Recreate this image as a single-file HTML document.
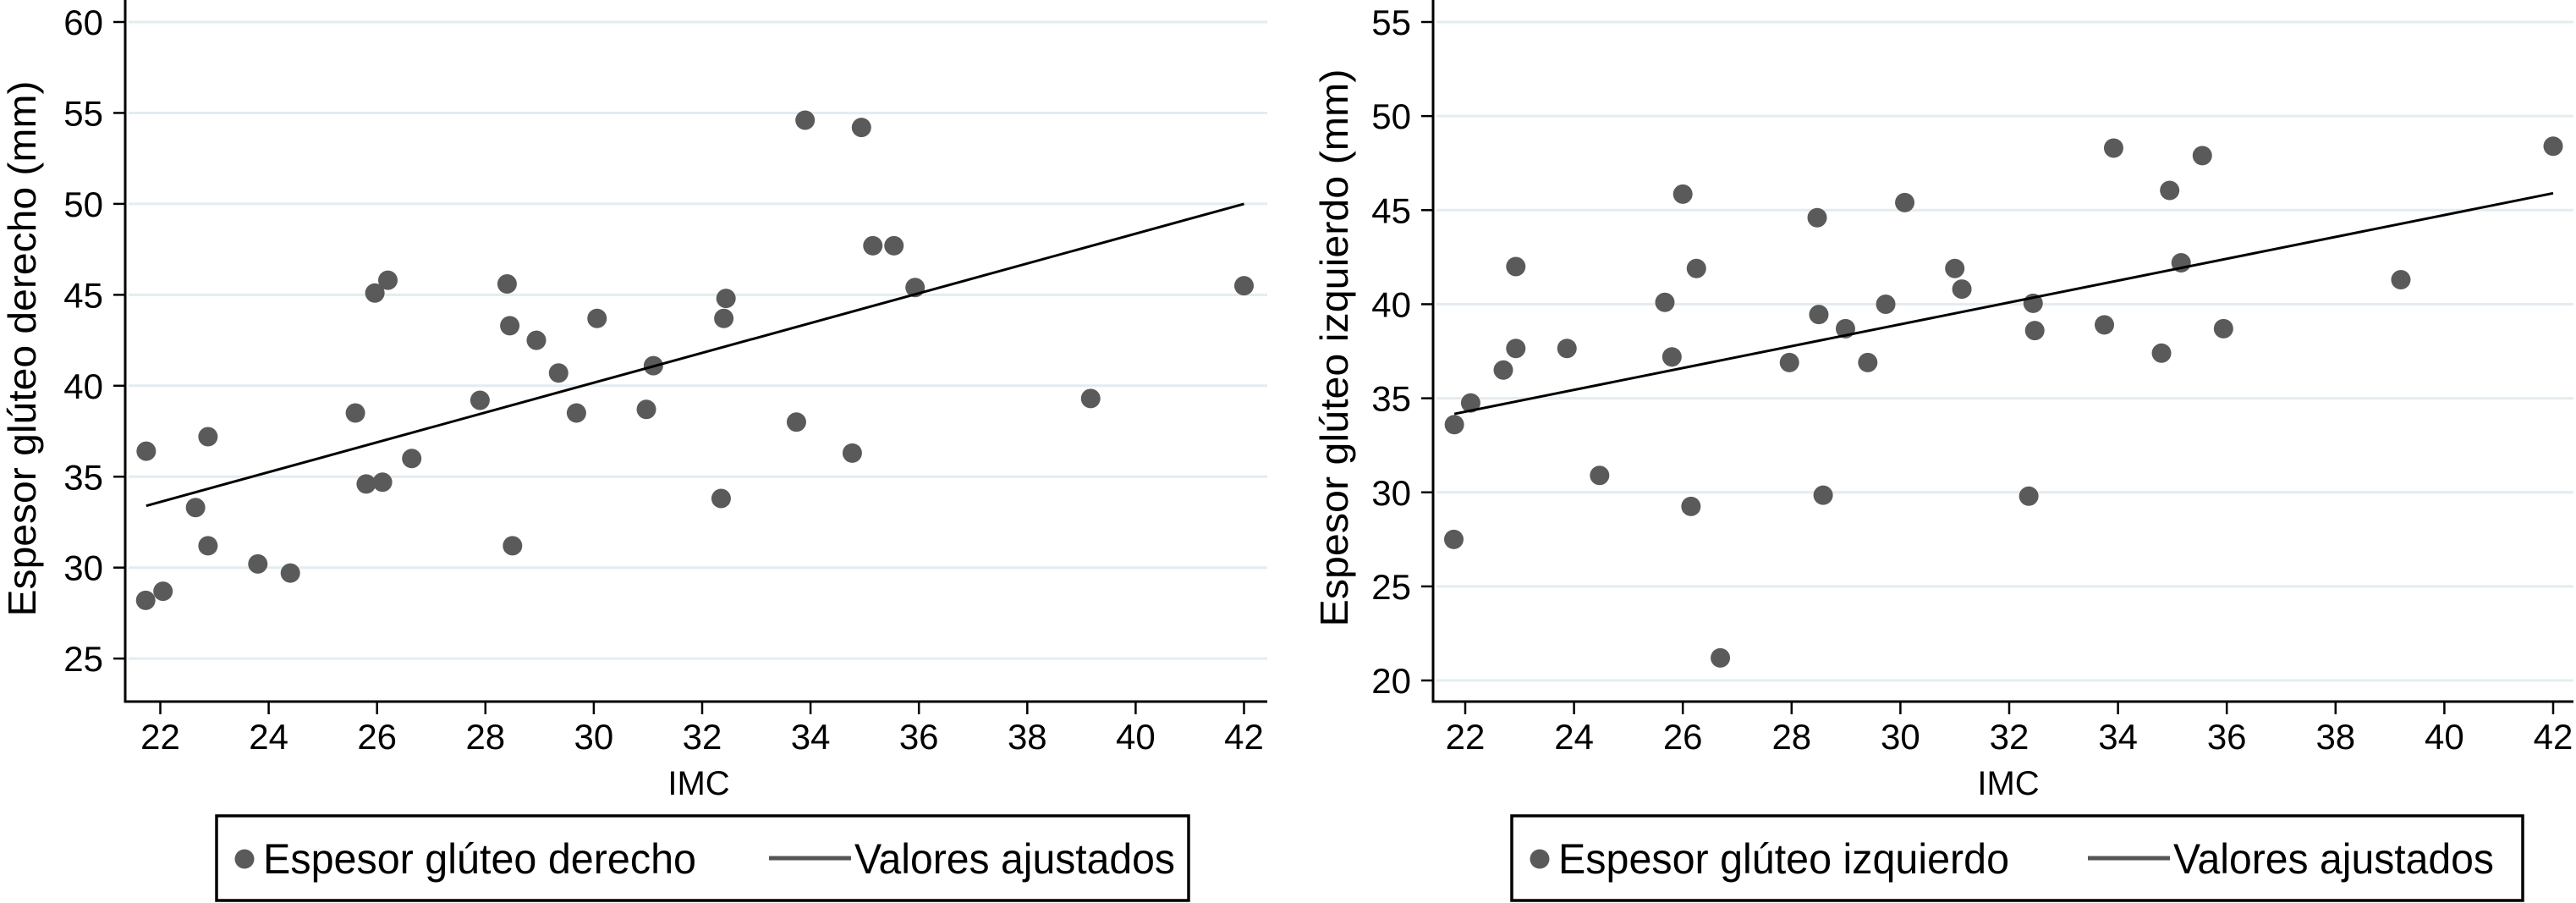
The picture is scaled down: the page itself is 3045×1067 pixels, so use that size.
<!DOCTYPE html>
<html><head><meta charset="utf-8"><style>
html,body{margin:0;padding:0;background:#fff;}
svg{display:block;font-family:"Liberation Sans",sans-serif;}
</style></head><body>
<svg id="chart" width="3045" height="1067" viewBox="0 0 3045 1067" xmlns="http://www.w3.org/2000/svg"></svg>
<script>
// ---- Left panel data ----
const leftX = [21.74,21.73,22.05,22.65,22.88,22.88,23.8,24.4,25.6,25.8,25.96,26.1,26.2,26.64,27.9,28.4,28.45,28.5,28.94,29.35,29.68,30.06,30.97,31.1,32.35,32.4,32.44,33.74,33.9,34.77,34.94,35.15,35.54,35.93,39.17,42.0];
const leftY = [36.4,28.2,28.7,33.3,37.2,31.2,30.2,29.7,38.5,34.6,45.1,34.7,45.8,36.0,39.2,45.6,43.3,31.2,42.5,40.7,38.5,43.7,38.7,41.1,33.8,43.7,44.8,38.0,54.6,36.3,54.2,47.7,47.7,45.4,39.3,45.5];
const leftFitX = [21.74,42];
const leftFitY = [33.4,50.0];
const leftYTicks = [25,30,35,40,45,50,55,60];
// ---- Right panel data ----
const rightX = [21.8,21.79,22.1,22.7,22.93,22.93,23.87,24.47,25.67,25.8,26.0,26.15,26.25,26.69,27.96,28.47,28.5,28.58,28.99,29.4,29.73,30.08,31.0,31.13,32.36,32.44,32.47,33.75,33.92,34.8,34.95,35.16,35.55,35.94,39.2,42.0];
const rightY = [33.6,27.5,34.75,36.5,42.0,37.65,37.65,30.9,40.1,37.2,45.85,29.25,41.9,21.2,36.9,44.6,39.45,29.85,38.7,36.9,40.0,45.4,41.9,40.8,29.8,40.05,38.6,38.9,48.3,37.4,46.05,42.2,47.9,38.7,41.3,48.4];
const rightFitX = [21.8,42];
const rightFitY = [34.17,45.9];
const rightYTicks = [20,25,30,35,40,45,50,55];
const xTicks = [22,24,26,28,30,32,34,36,38,40,42];

const NS="http://www.w3.org/2000/svg";
const svg=document.getElementById('chart');
function mk(tag,attrs,parent,text){const e=document.createElementNS(NS,tag);for(const k in attrs)e.setAttribute(k,attrs[k]);if(text!==undefined)e.textContent=text;(parent||svg).appendChild(e);return e;}

function panel(cfg){
  const g=mk('g',{});
  
  
  const xs=v=>cfg.x22+(v-22)*cfg.pxX;
  const ys=v=>cfg.yTop+(cfg.yMax-v)*cfg.pxY;
  // gridlines + y ticks
  cfg.yTicks.forEach(t=>{
    const y=ys(t);
    const gl=mk('line',{x1:cfg.axisX+4,x2:cfg.gridEnd,y1:y,y2:y,stroke:'#e4ecf0','stroke-width':3},g);
    
    
    mk('line',{x1:cfg.axisX-14,x2:cfg.axisX,y1:y,y2:y,stroke:'#000','stroke-width':2.5},g);
    const tl=mk('text',{x:cfg.axisX-26,y:y+15,'text-anchor':'end','font-size':42},g,String(t));
    
    
  });
  // axes
  const ya=mk('line',{x1:cfg.axisX,x2:cfg.axisX,y1:0,y2:cfg.axisY+1.5,stroke:'#000','stroke-width':3},g);
  
  
  const xa=mk('line',{x1:cfg.axisX-1.5,x2:cfg.gridEnd,y1:cfg.axisY,y2:cfg.axisY,stroke:'#000','stroke-width':3},g);
  
  
  xTicks.forEach(t=>{
    const x=xs(t);
    mk('line',{x1:x,x2:x,y1:cfg.axisY,y2:cfg.axisY+15,stroke:'#000','stroke-width':2.5},g);
    const tl=mk('text',{x:x,y:cfg.axisY+56,'text-anchor':'middle','font-size':42},g,String(t));
    
    
  });
  // points
  cfg.px.forEach((v,i)=>{
    const c=mk('circle',{cx:xs(v),cy:ys(cfg.py[i]),r:11.5,fill:'#5a5a5a'},g);
    
    
  });
  // fit line
  const fl=mk('line',{x1:xs(cfg.fx[0]),y1:ys(cfg.fy[0]),x2:xs(cfg.fx[1]),y2:ys(cfg.fy[1]),stroke:'#000','stroke-width':3},g);
  
  
  // titles
  const xt=mk('text',{x:cfg.imcX,y:cfg.axisY+110,'text-anchor':'middle','font-size':40},g,'IMC');
  
  
  const yt=mk('text',{x:0,y:0,'text-anchor':'middle','font-size':46,textLength:cfg.titleLen,lengthAdjust:'spacingAndGlyphs',transform:`translate(${cfg.titleX},${cfg.titleY}) rotate(-90)`},g,cfg.title);
  
  
  // legend
  const lg=mk('g',{},g);
  
  
  mk('rect',{x:cfg.lgX,y:964,width:cfg.lgW,height:100,fill:'#fff',stroke:'#000','stroke-width':3.5},lg);
  mk('circle',{cx:cfg.lgX+33,cy:1015,r:11.5,fill:'#5a5a5a'},lg);
  const t1=mk('text',{x:cfg.lgX+55,y:1032,'font-size':50,textLength:cfg.t1Len,lengthAdjust:'spacingAndGlyphs'},lg,cfg.legend);
  
  
  mk('line',{x1:cfg.lineX,x2:cfg.lineX+97,y1:1014,y2:1014,stroke:'#555','stroke-width':5},lg);
  const t2=mk('text',{x:cfg.lineX+101,y:1032,'font-size':50,textLength:379,lengthAdjust:'spacingAndGlyphs'},lg,'Valores ajustados');
  
  
}

panel({name:'left-panel',axisX:148,axisY:829,gridEnd:1498,x22:189.5,pxX:64.05,yTop:26,yMax:60,pxY:21.49,
  yTicks:leftYTicks,px:leftX,py:leftY,fx:leftFitX,fy:leftFitY,imcX:826,title:'Espesor glúteo derecho (mm)',
  titleX:42,titleY:412,titleLen:633,lgX:256,lgW:1149,legend:'Espesor glúteo derecho',t1Len:512,lineX:909});
panel({name:'right-panel',axisX:1694,axisY:829,gridEnd:3042,x22:1732,pxX:64.3,yTop:26,yMax:55,pxY:22.23,
  yTicks:rightYTicks,px:rightX,py:rightY,fx:rightFitX,fy:rightFitY,imcX:2374,title:'Espesor glúteo izquierdo (mm)',
  titleX:1593,titleY:411,titleLen:659,lgX:1787,lgW:1195,legend:'Espesor glúteo izquierdo',t1Len:533,lineX:2468});
</script>
</body></html>
